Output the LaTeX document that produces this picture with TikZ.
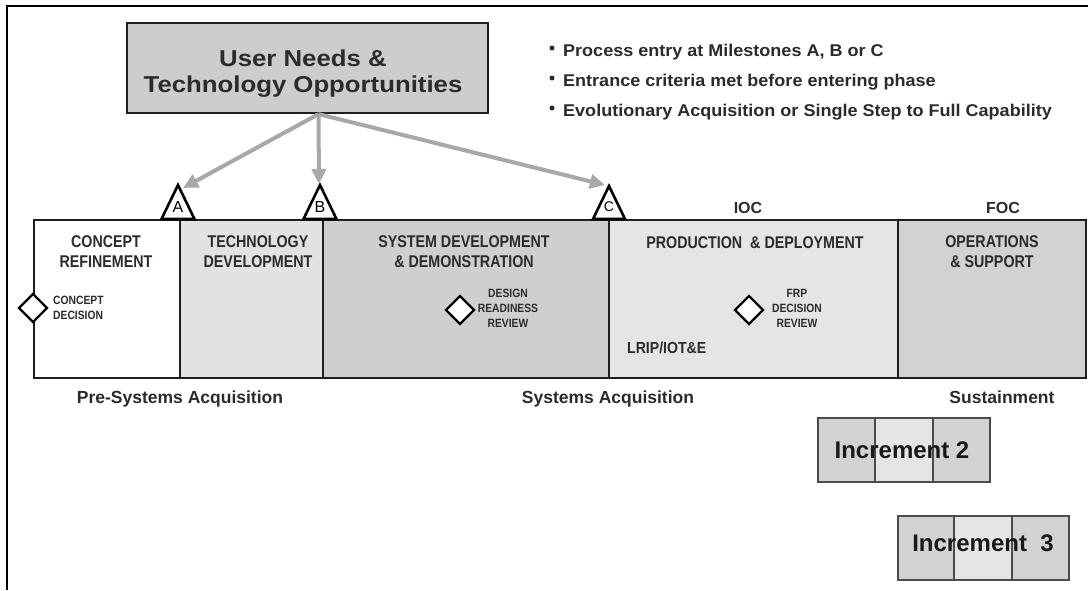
\documentclass[tikz,border=0pt]{standalone}
\usepackage{fontspec}
\setmainfont{Liberation Sans}
\newfontfamily\titlesans[FakeStretch=1.12]{Liberation Sans}
\newfontfamily\condsans[FakeStretch=0.84]{Liberation Sans}
\newfontfamily\lripsans[FakeStretch=0.88]{Liberation Sans}
\newfontfamily\smallsans[FakeStretch=0.86]{Liberation Sans}
\newfontfamily\bulletsans[FakeStretch=1.06]{Liberation Sans}
\usetikzlibrary{arrows.meta,shapes.geometric}
\definecolor{txt}{HTML}{2B2B2B}
\definecolor{topfill}{HTML}{CDCDCF}
\definecolor{tdfill}{HTML}{E2E2E2}
\definecolor{sddfill}{HTML}{CECFD1}
\definecolor{pdfill}{HTML}{E4E5E7}
\definecolor{osfill}{HTML}{D1D2D4}
\definecolor{arrgray}{HTML}{A8A8A8}
\definecolor{edge}{HTML}{1E1E1E}
\tikzset{
  phasebox/.style={draw=edge, line width=2.2pt, inner sep=0pt, anchor=north west},
  phaselbl/.style={font=\condsans\bfseries\fontsize{17}{20}\selectfont, text=txt, align=center, inner sep=0pt},
  smalllbl/.style={font=\smallsans\bfseries\fontsize{12}{15}\selectfont, text=txt, inner sep=0pt},
  milestone/.style={draw=black, line width=2.6pt, fill=white, line join=miter},
  mslbl/.style={font=\fontsize{16}{16}\selectfont, text=black, inner sep=0pt, anchor=base},
  decision/.style={diamond, draw=black, line width=2.4pt, fill=white, inner sep=0pt, minimum width=29pt, minimum height=29pt},
  feed/.style={draw=arrgray, line width=4pt, -{Triangle[length=15pt,width=14pt]}},
  bullettxt/.style={font=\bulletsans\bfseries\fontsize{17}{17}\selectfont, text=txt, inner sep=0pt, anchor=base west},
  bulletdot/.style={circle, fill=txt, inner sep=0pt, minimum size=5pt},
  bottomlbl/.style={font=\bfseries\fontsize{17.5}{17.5}\selectfont, text=txt, inner sep=0pt, anchor=base},
  markerlbl/.style={font=\bfseries\fontsize{16}{16}\selectfont, text=txt, inner sep=0pt, anchor=base},
  inccell/.style={draw=edge!80, line width=1.5pt, inner sep=0pt, anchor=north west, minimum height=64pt},
  inclbl/.style={font=\bfseries\fontsize{24}{24}\selectfont, text=black!90, inner sep=0pt, anchor=base},
}
\begin{document}
\begin{tikzpicture}[x=1pt,y=-1pt]
\useasboundingbox (0,0) rectangle (1088,590);
\fill[white] (0,0) rectangle (1088,590);
% frame
\draw[line width=2pt, black] (7,590) -- (7,6) -- (1088,6);

% top box
\node[draw=edge, line width=2.2pt, fill=topfill, minimum width=361pt, minimum height=90pt, inner sep=0pt] (top) at (307.5,68) {};
\node[font=\titlesans\bfseries\fontsize{23}{26}\selectfont, text=txt, align=center, inner sep=0pt] (toptext) at (303,73.5) {User Needs \&\\Technology Opportunities};
\coordinate (src) at ([xshift=11pt]top.south);

% bullets
\node[bulletdot] (d1) at (552,48) {};
\node[bulletdot] (d2) at (552,78) {};
\node[bulletdot] (d3) at (552,108) {};
\node[bullettxt] (b1) at (563,56) {Process entry at Milestones A, B or C};
\node[bullettxt] (b2) at (563,86) {Entrance criteria met before entering phase};
\node[bullettxt] (b3) at (563,116) {Evolutionary Acquisition or Single Step to Full Capability};

% phases
\node[phasebox, fill=white,   minimum width=146pt, minimum height=158pt] (cr)  at (33,219)  {};
\node[phasebox, fill=tdfill,  minimum width=143pt, minimum height=158pt] (td)  at (179,219) {};
\node[phasebox, fill=sddfill, minimum width=286pt, minimum height=158pt] (sdd) at (322,219) {};
\node[phasebox, fill=pdfill,  minimum width=289pt, minimum height=158pt] (pd)  at (608,219) {};
\node[phasebox, fill=osfill,  minimum width=188pt, minimum height=158pt] (os)  at (897,219) {};

\node[phaselbl] (crl)  at (106,252) {CONCEPT\\REFINEMENT};
\node[phaselbl] (tdl)  at (258,252) {TECHNOLOGY\\DEVELOPMENT};
\node[phaselbl] (sddl) at (464,252) {SYSTEM DEVELOPMENT\\\& DEMONSTRATION};
\node[phaselbl, anchor=base] (pdl) at (755,248) {PRODUCTION \ \& DEPLOYMENT};
\node[phaselbl] (osl)  at (992,252) {OPERATIONS\\\& SUPPORT};

% decision points
\node[decision] (cd)  at (33,308)  {};
\node[smalllbl, align=left, anchor=west] (cdl) at (53,307.5) {CONCEPT\\DECISION};
\node[decision] (drr) at (460,310) {};
\node[smalllbl, align=center] (drrl) at (508,308) {DESIGN\\READINESS\\REVIEW};
\node[decision] (frp) at (749,310) {};
\node[smalllbl, align=center] (frpl) at (797,308) {FRP\\DECISION\\REVIEW};
\node[font=\lripsans\bfseries\fontsize{16}{16}\selectfont, text=txt, inner sep=0pt, anchor=base west] (lrip) at (627,353.7) {LRIP/IOT\&E};

% IOC / FOC
\node[markerlbl] (ioc) at (748,213.7) {IOC};
\node[markerlbl] (foc) at (1003,213.7) {FOC};

% milestones
\coordinate (Aapex) at (178,185);
\coordinate (Bapex) at (320,185);
\coordinate (Capex) at (609,186);
\draw[milestone] (Aapex) -- (194.5,219) -- (161.5,219) -- cycle;
\draw[milestone] (Bapex) -- (336.5,219) -- (303.5,219) -- cycle;
\draw[milestone] (Capex) -- (625,219) -- (593,219) -- cycle;
\node[mslbl] (Al) at (178,212.5) {A};
\node[mslbl] (Bl) at (320,212.5) {B};
\node[mslbl, font=\fontsize{14}{14}\selectfont] (Cl) at (609,211) {C};

% feed arrows
\coordinate (Atip) at (183,188);
\coordinate (Btip) at (319,184);
\coordinate (Ctip) at (605,185);
\draw[feed] (src) -- (Atip);
\draw[feed] (src) -- (Btip);
\draw[feed] (src) -- (Ctip);

% bottom labels
\node[bottomlbl] (pre) at (180,403.3) {Pre-Systems Acquisition};
\node[bottomlbl] (sys) at (608,403.3) {Systems Acquisition};
\node[bottomlbl] (sus) at (1002,403.3) {Sustainment};

% increments
\node[inccell, fill=osfill, minimum width=57pt] (i2a) at (817,417) {};
\node[inccell, fill=pdfill, minimum width=58pt] (i2b) at (874,417) {};
\node[inccell, fill=osfill, minimum width=57pt] (i2c) at (932,417) {};
\node[inclbl] (i2l) at (902,458.6) {Increment 2};

\node[inccell, fill=osfill, minimum width=56pt] (i3a) at (897,515) {};
\node[inccell, fill=pdfill, minimum width=58pt] (i3b) at (953,515) {};
\node[inccell, fill=osfill, minimum width=57pt] (i3c) at (1011,515) {};
\node[inclbl] (i3l) at (983,551.6) {Increment\ \ 3};
\end{tikzpicture}
\end{document}
